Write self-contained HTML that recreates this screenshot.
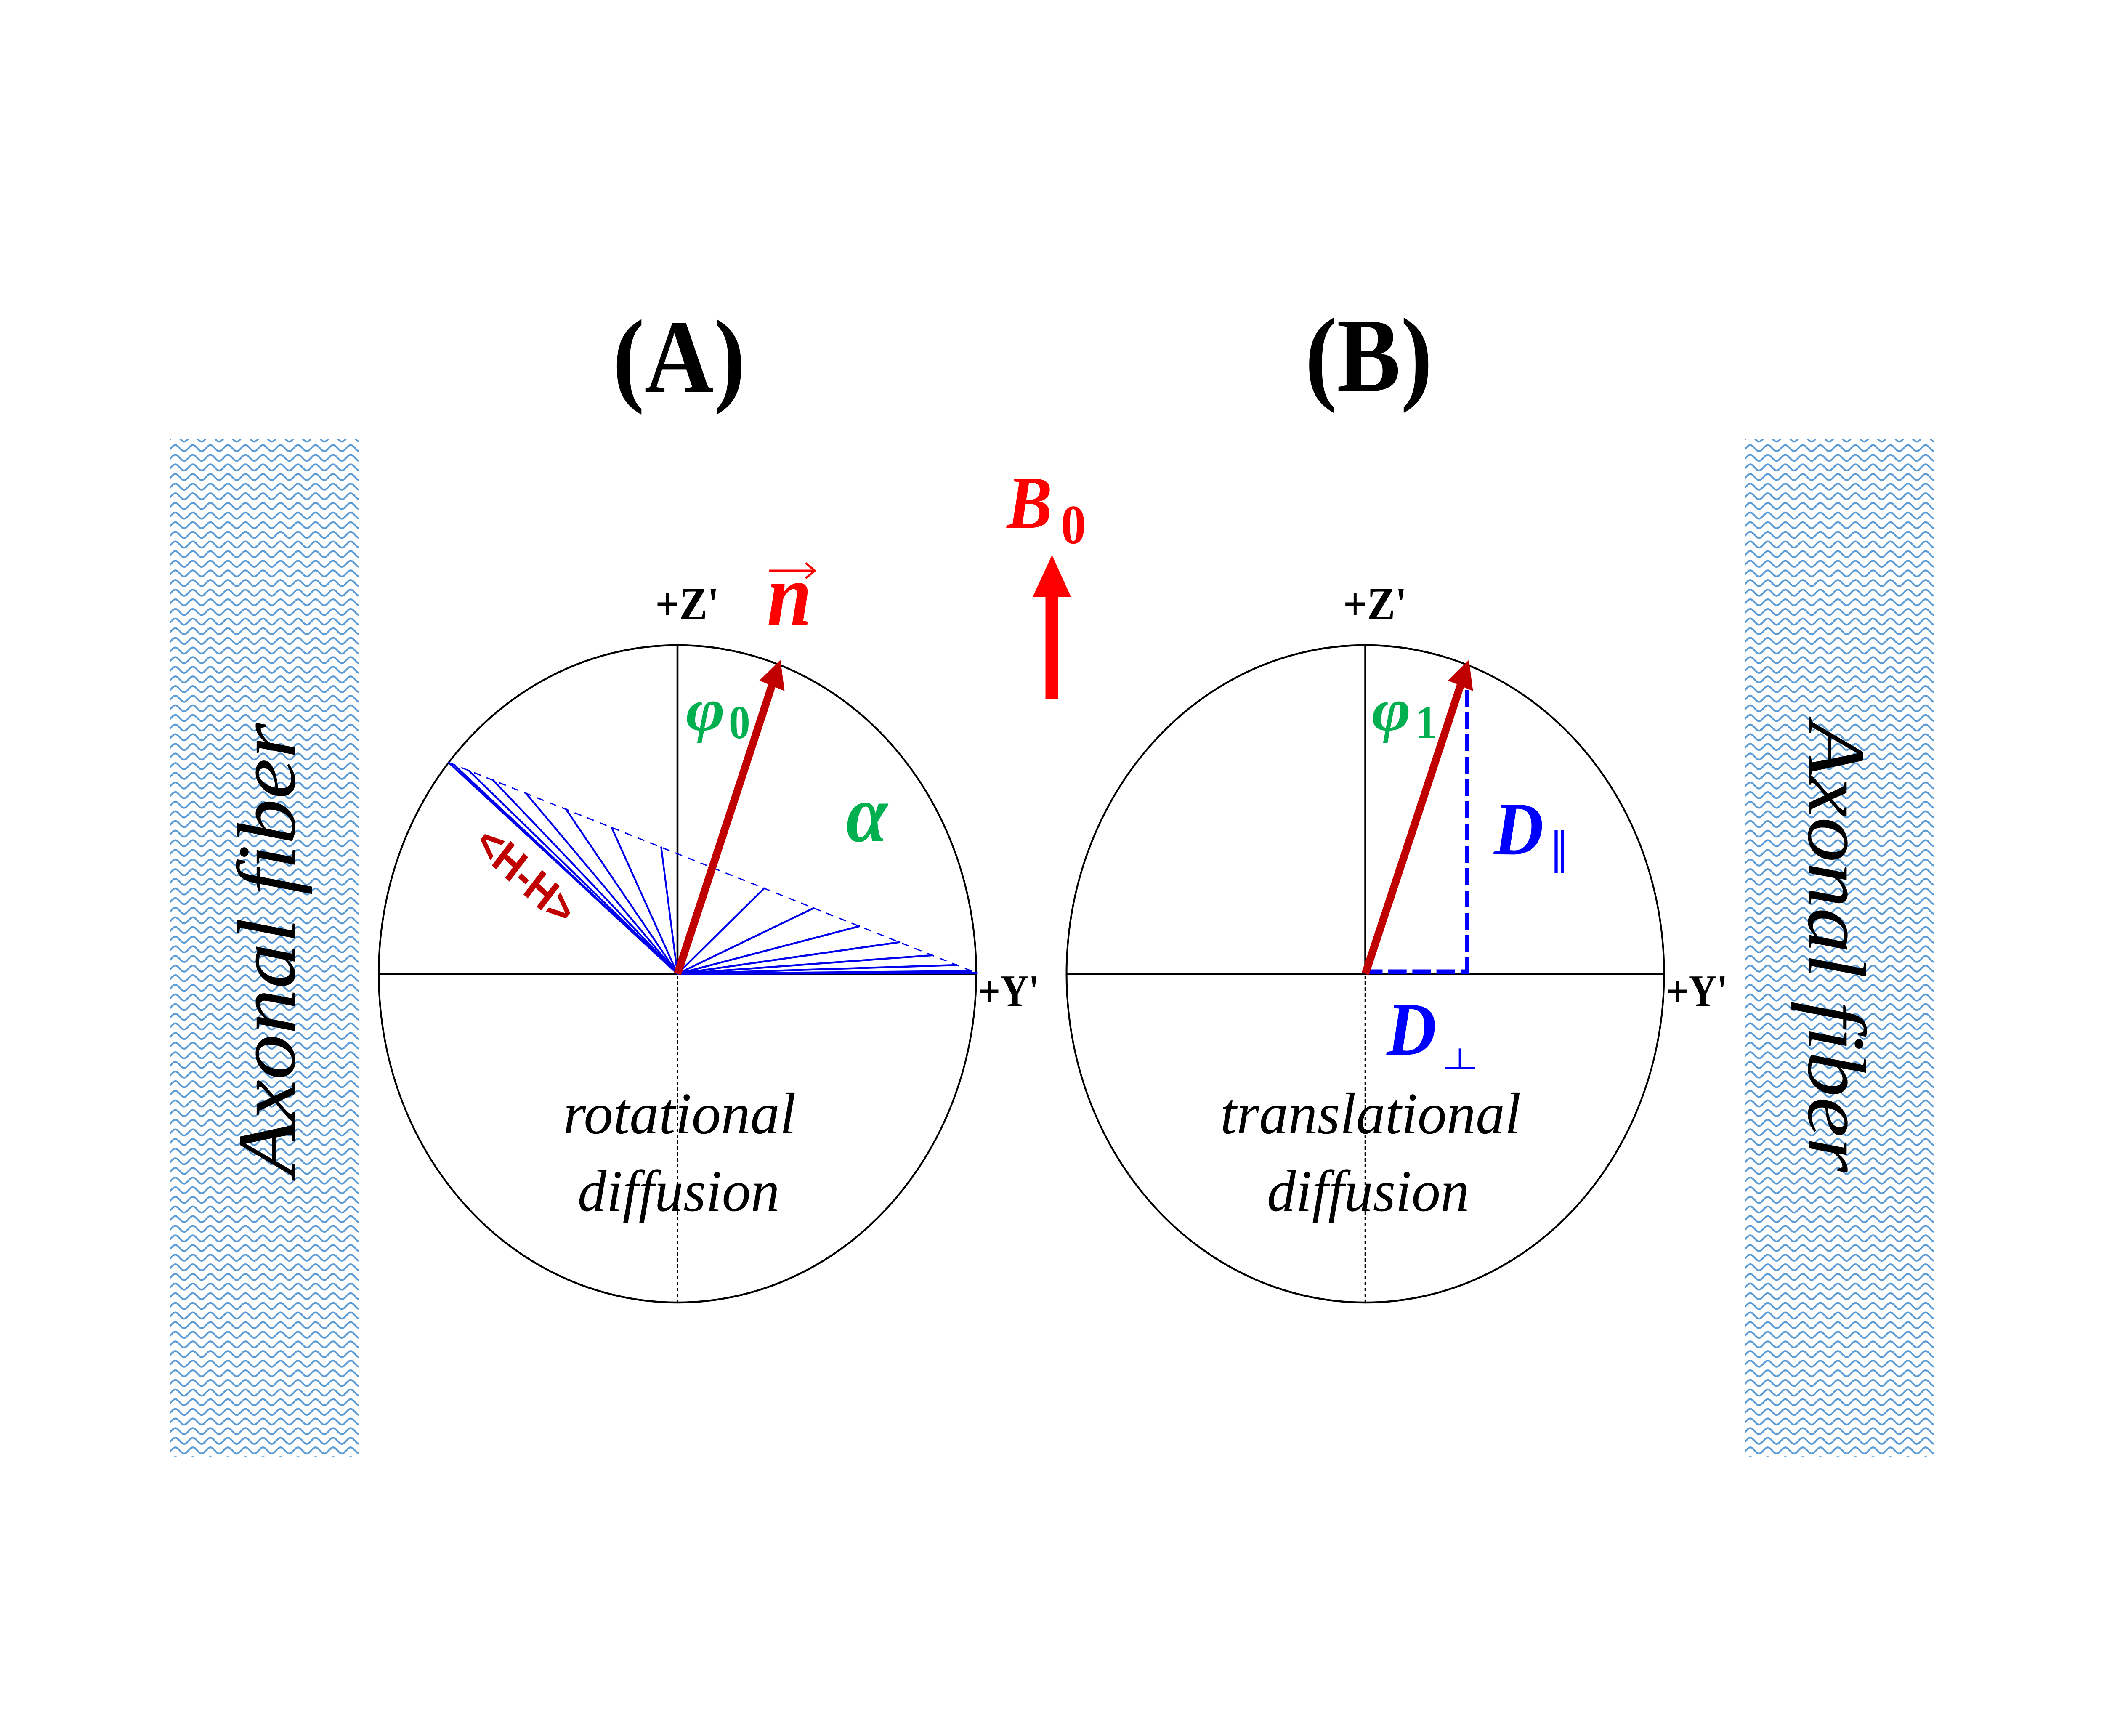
<!DOCTYPE html>
<html>
<head>
<meta charset="utf-8">
<style>
html,body{margin:0;padding:0;background:#fff;overflow:hidden;width:100%;height:100%;}
svg{display:block;position:fixed;left:0;top:0;width:100vw;height:100vh;}
.serif{font-family:"Liberation Serif","DejaVu Serif",serif;}
.sans{font-family:"Liberation Sans","DejaVu Sans",sans-serif;}
.sym{font-family:"DejaVu Sans","Liberation Sans",sans-serif;}
</style>
</head>
<body>
<svg viewBox="0 0 5500 4125" preserveAspectRatio="none" xmlns="http://www.w3.org/2000/svg">
<defs>
  <pattern id="wl" patternUnits="userSpaceOnUse" x="444" y="1042" width="45.83" height="22.9">
    <polyline fill="none" stroke="#5B9BD5" stroke-width="4.2" points="-2.864,5.19 0,2.79 2.864,-0.02 5.729,-2.83 8.593,-5.21 11.457,-6.8 14.321,-7.35 17.186,-6.78 20.05,-5.18 22.914,-2.79 25.779,0.02 28.643,2.83 31.507,5.22 34.371,6.8 37.236,7.35 40.1,6.78 42.964,5.19 45.829,2.79 48.693,-0.02"/>
    <polyline fill="none" stroke="#5B9BD5" stroke-width="4.2" transform="translate(0,22.9)" points="-2.864,5.19 0,2.79 2.864,-0.02 5.729,-2.83 8.593,-5.21 11.457,-6.8 14.321,-7.35 17.186,-6.78 20.05,-5.18 22.914,-2.79 25.779,0.02 28.643,2.83 31.507,5.22 34.371,6.8 37.236,7.35 40.1,6.78 42.964,5.19 45.829,2.79 48.693,-0.02"/>
  </pattern>
  <pattern id="wr" patternUnits="userSpaceOnUse" x="4561" y="1042" width="45.83" height="22.9">
    <polyline fill="none" stroke="#5B9BD5" stroke-width="4.2" points="-2.864,5.19 0,2.79 2.864,-0.02 5.729,-2.83 8.593,-5.21 11.457,-6.8 14.321,-7.35 17.186,-6.78 20.05,-5.18 22.914,-2.79 25.779,0.02 28.643,2.83 31.507,5.22 34.371,6.8 37.236,7.35 40.1,6.78 42.964,5.19 45.829,2.79 48.693,-0.02"/>
    <polyline fill="none" stroke="#5B9BD5" stroke-width="4.2" transform="translate(0,22.9)" points="-2.864,5.19 0,2.79 2.864,-0.02 5.729,-2.83 8.593,-5.21 11.457,-6.8 14.321,-7.35 17.186,-6.78 20.05,-5.18 22.914,-2.79 25.779,0.02 28.643,2.83 31.507,5.22 34.371,6.8 37.236,7.35 40.1,6.78 42.964,5.19 45.829,2.79 48.693,-0.02"/>
  </pattern>
</defs>

<rect x="0" y="0" width="5500" height="4125" fill="#ffffff"/>

<!-- Axonal fiber bands -->
<rect x="444" y="1042" width="494" height="2419" fill="url(#wl)"/>
<rect x="4561" y="1042" width="494" height="2419" fill="url(#wr)"/>
<text class="serif" font-style="italic" font-size="216" text-anchor="middle" textLength="1076" lengthAdjust="spacingAndGlyphs" transform="translate(770,2256) rotate(-90)" x="0" y="0" fill="#000">Axonal fiber</text>
<text class="serif" font-style="italic" font-size="216" text-anchor="middle" textLength="1072" lengthAdjust="spacingAndGlyphs" transform="translate(4728,2250) rotate(90)" x="0" y="0" fill="#000">Axonal fiber</text>

<!-- Titles -->
<text class="serif" x="1775" y="932" font-size="250" font-weight="bold" text-anchor="middle" fill="#000">(A)</text>
<text class="serif" x="3578" y="928" font-size="250" font-weight="bold" text-anchor="middle" fill="#000">(B)</text>

<!-- ===== Panel A ===== -->
<circle cx="1771" cy="2314" r="781" fill="none" stroke="#000" stroke-width="4.5"/>
<line x1="1771" y1="1533" x2="1771" y2="2314" stroke="#000" stroke-width="5"/>
<line x1="990" y1="2314" x2="2552" y2="2314" stroke="#000" stroke-width="5"/>
<line x1="1771" y1="2318" x2="1771" y2="3095" stroke="#000" stroke-width="4" stroke-dasharray="8 6"/>

<!-- fan -->
<line x1="1173" y1="1812" x2="2553" y2="2312" stroke="#0000ee" stroke-width="3" stroke-dasharray="19 16"/>
<path fill="none" stroke="#0000ee" stroke-width="4.5" stroke-linecap="round" d="
M1771 2314 L1173 1812
M1771 2314 L1186.3 1816.8
M1771 2314 L1225.5 1831
M1771 2314 L1289.3 1854.1
M1771 2314 L1375.1 1885.2
M1771 2314 L1479.7 1923.1
M1771 2314 L1598.9 1966.3
M1771 2314 L1728.4 2013.2
M1771 2314 L1863 2062
M1771 2314 L1997.6 2110.8
M1771 2314 L2127 2157.7
M1771 2314 L2246.3 2200.9
M1771 2314 L2350.9 2238.8
M1771 2314 L2436.7 2269.9
M1771 2314 L2500.5 2293
M1771 2314 L2539.7 2307.2
M1771 2314 L2553 2312"/>

<!-- red vector n (A) -->
<line x1="1771" y1="2314" x2="2022" y2="1617" stroke="#C00000" stroke-width="20"/>
<polygon points="2040,1568 2051,1642 1985,1617" fill="#C00000"/>

<!-- labels A -->
<text class="serif" x="1713" y="1472" font-size="110" font-weight="bold" fill="#000">+Z'</text>
<text class="serif" x="2557" y="2391" font-size="108" font-weight="bold" textLength="160" lengthAdjust="spacingAndGlyphs" fill="#000">+Y'</text>

<text class="serif" x="2005" y="1484" font-size="210" font-weight="bold" font-style="italic" fill="#FF0000">n</text>
<line x1="2010" y1="1356" x2="2128" y2="1356" stroke="#FF0000" stroke-width="5"/>
<polyline points="2106,1338 2130,1356 2106,1374" fill="none" stroke="#FF0000" stroke-width="5"/>

<text class="serif" x="1793" y="1735" font-size="145" font-weight="bold" font-style="italic" textLength="102" lengthAdjust="spacingAndGlyphs" fill="#00B050">φ</text>
<text class="serif" x="1905" y="1754" font-size="112" font-weight="bold" fill="#00B050">0</text>
<text class="serif" x="2212" y="1999" font-size="195" font-weight="bold" font-style="italic" fill="#00B050">α</text>

<text class="sans" font-size="110" font-weight="bold" text-anchor="middle" textLength="300" lengthAdjust="spacingAndGlyphs" transform="translate(1350,2110) rotate(40)" x="0" y="0" fill="#C00000">&lt;H-H&gt;</text>

<text class="serif" x="1472" y="2693" font-size="140" font-style="italic" textLength="609" lengthAdjust="spacingAndGlyphs" fill="#000">rotational</text>
<text class="serif" x="1510" y="2877" font-size="140" font-style="italic" textLength="528" lengthAdjust="spacingAndGlyphs" fill="#000">diffusion</text>

<!-- ===== B0 ===== -->
<text class="serif" x="2632" y="1254" font-size="178" font-weight="bold" font-style="italic" fill="#FF0000">B</text>
<text class="serif" x="2773" y="1291" font-size="132" font-weight="bold" fill="#FF0000">0</text>
<polygon points="2750,1319 2800,1419 2766,1419 2766,1662 2733,1662 2733,1419 2699,1419" fill="#FF0000"/>

<!-- ===== Panel B ===== -->
<circle cx="3569" cy="2314" r="781" fill="none" stroke="#000" stroke-width="4.5"/>
<line x1="3569" y1="1533" x2="3569" y2="2314" stroke="#000" stroke-width="5"/>
<line x1="2788" y1="2314" x2="4350" y2="2314" stroke="#000" stroke-width="5"/>
<line x1="3569" y1="2318" x2="3569" y2="3095" stroke="#000" stroke-width="4" stroke-dasharray="8 6"/>

<line x1="3835" y1="1639" x2="3835" y2="2314" stroke="#0000FF" stroke-width="11" stroke-dasharray="40 13"/>
<line x1="3566" y1="2309" x2="3841" y2="2309" stroke="#0000FF" stroke-width="11" stroke-dasharray="48 15"/>

<line x1="3569" y1="2314" x2="3822" y2="1617" stroke="#C00000" stroke-width="20"/>
<polygon points="3840,1568 3850.5,1642 3785,1617" fill="#C00000"/>

<text class="serif" x="3511" y="1472" font-size="110" font-weight="bold" fill="#000">+Z'</text>
<text class="serif" x="4356" y="2391" font-size="108" font-weight="bold" textLength="160" lengthAdjust="spacingAndGlyphs" fill="#000">+Y'</text>

<text class="serif" x="3586" y="1735" font-size="145" font-weight="bold" font-style="italic" textLength="102" lengthAdjust="spacingAndGlyphs" fill="#00B050">φ</text>
<text class="serif" x="3700" y="1754" font-size="112" font-weight="bold" fill="#00B050">1</text>

<text class="serif" x="3905" y="2030" font-size="180" font-weight="bold" font-style="italic" fill="#0000FF">D</text>
<text class="sym" x="4050" y="2052" font-size="104" fill="#0000FF">∥</text>

<text class="serif" x="3625" y="2506" font-size="180" font-weight="bold" font-style="italic" fill="#0000FF">D</text>
<text class="sym" font-size="112" fill="#0000FF" transform="translate(3768,2540) scale(1,0.62)" x="0" y="0">⊥</text>

<text class="serif" x="3190" y="2693" font-size="140" font-style="italic" textLength="786" lengthAdjust="spacingAndGlyphs" fill="#000">translational</text>
<text class="serif" x="3312" y="2877" font-size="140" font-style="italic" textLength="529" lengthAdjust="spacingAndGlyphs" fill="#000">diffusion</text>
</svg>
</body>
</html>
